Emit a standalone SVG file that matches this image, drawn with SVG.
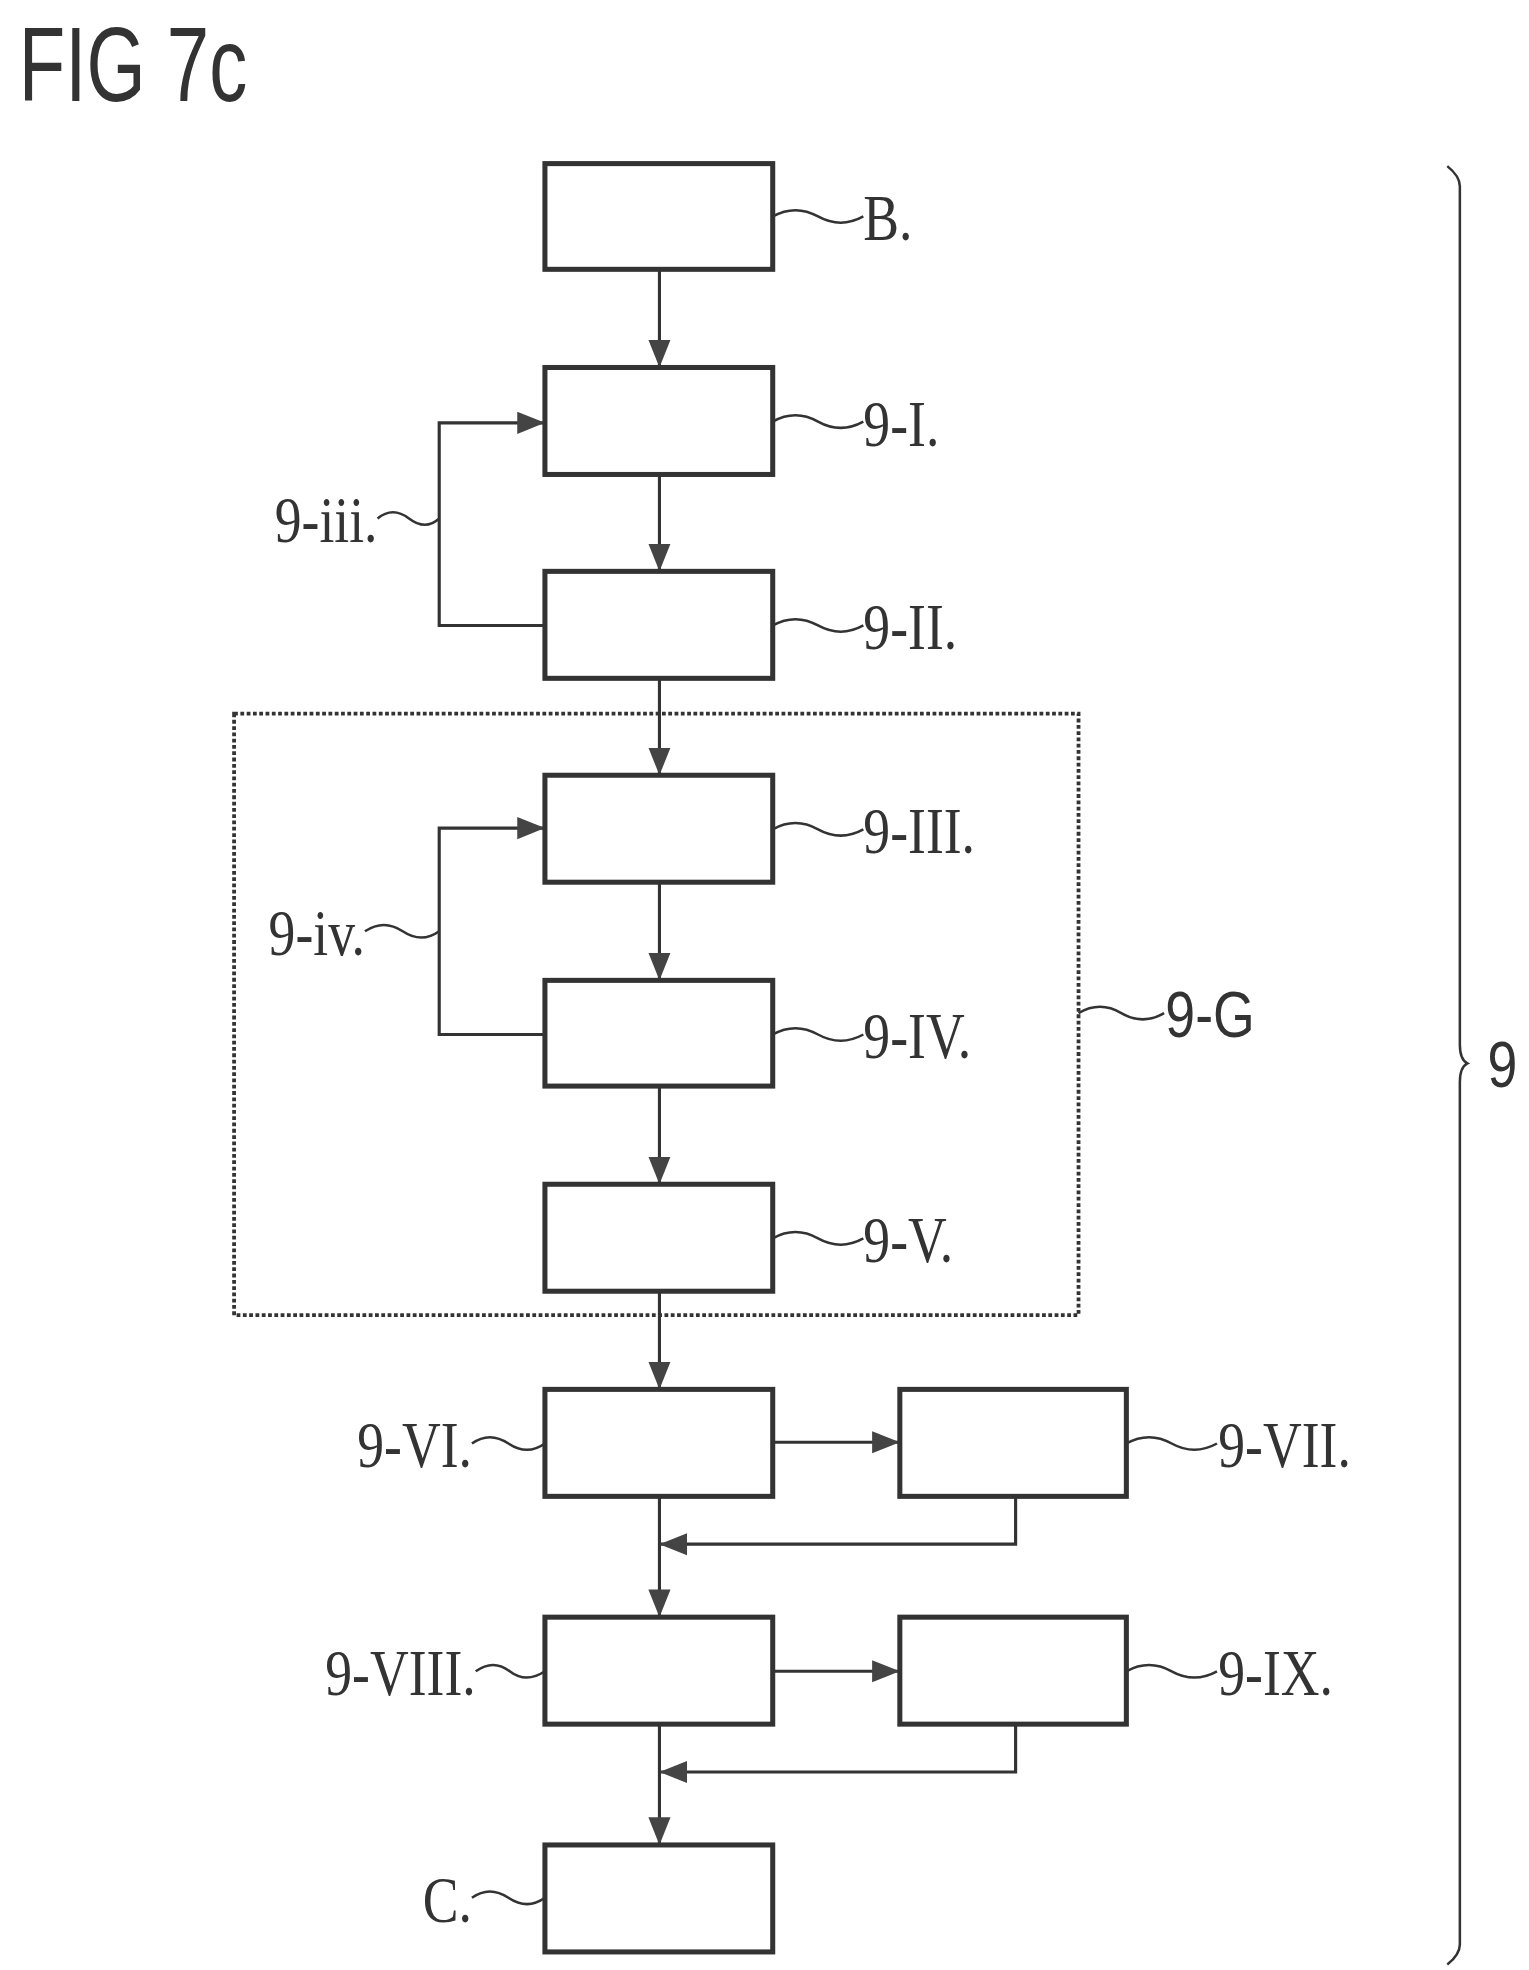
<svg xmlns="http://www.w3.org/2000/svg" width="1529" height="1970" viewBox="0 0 1529 1970">
<style>
.box{fill:#fff;stroke:#333;stroke-width:4}
.ln{fill:none;stroke:#333;stroke-width:2.5}
.td{fill:none;stroke:#333;stroke-width:2}
.lb{font-family:"Liberation Serif",serif;font-size:52px;fill:#333}
</style>
<defs>
<marker id="a" viewBox="0 0 10 10" refX="10" refY="5" markerWidth="22" markerHeight="22" orient="auto" markerUnits="userSpaceOnUse"><path d="M0,1 L10,5 L0,9 Z" fill="#444"/></marker>
</defs>
<rect width="1529" height="1970" fill="#fff"/>
<g transform="scale(1.2585)">
<text x="15" y="80" transform="translate(15 80) scale(0.72 1) translate(-15 -80)" style="font-family:'Liberation Sans',sans-serif;font-size:84px;fill:#333">FIG 7c</text>
<g id="connectors">
<path class="ln" d="M524,214 V292" marker-end="url(#a)"/>
<path class="ln" d="M524,377 V454" marker-end="url(#a)"/>
<path class="ln" d="M524,539 V616" marker-end="url(#a)"/>
<path class="ln" d="M524,701 V779" marker-end="url(#a)"/>
<path class="ln" d="M524,863 V941" marker-end="url(#a)"/>
<path class="ln" d="M524,1026 V1104" marker-end="url(#a)"/>
<path class="ln" d="M524,1189 V1285" marker-end="url(#a)"/>
<path class="ln" d="M524,1370 V1466" marker-end="url(#a)"/>
<path class="ln" d="M433,497 H349 V336 H433" marker-end="url(#a)"/>
<path class="ln" d="M433,822 H349 V658 H433" marker-end="url(#a)"/>
<path class="ln" d="M614,1146 H715" marker-end="url(#a)"/>
<path class="ln" d="M614,1328 H715" marker-end="url(#a)"/>
<path class="ln" d="M807,1189 V1227 H524" marker-end="url(#a)"/>
<path class="ln" d="M807,1370 V1408 H524" marker-end="url(#a)"/>
</g>
<g id="group-9G"><rect x="186" y="567" width="671" height="478" fill="none" stroke="#333" stroke-width="3" stroke-dasharray="3,2"/></g>
<g id="B"><rect class="box" x="433" y="130" width="181" height="84"/><path class="td" d="M614,172 q18,-10 36,0 t36,0"/><text class="lb" x="686" y="191" transform="translate(686 191) scale(0.82 1) translate(-686 -191)">B.</text></g>
<g id="n9-I"><rect class="box" x="433" y="292" width="181" height="85"/><path class="td" d="M614,335 q18,-10 36,0 t36,0"/><text class="lb" x="686" y="354" transform="translate(686 354) scale(0.82 1) translate(-686 -354)">9-I.</text></g>
<g id="n9-II"><rect class="box" x="433" y="454" width="181" height="85"/><path class="td" d="M614,497 q18,-10 36,0 t36,0"/><text class="lb" x="686" y="516" transform="translate(686 516) scale(0.82 1) translate(-686 -516)">9-II.</text></g>
<g id="n9-III"><rect class="box" x="433" y="616" width="181" height="85"/><path class="td" d="M614,659 q18,-10 36,0 t36,0"/><text class="lb" x="686" y="678" transform="translate(686 678) scale(0.82 1) translate(-686 -678)">9-III.</text></g>
<g id="n9-IV"><rect class="box" x="433" y="779" width="181" height="84"/><path class="td" d="M614,822 q18,-10 36,0 t36,0"/><text class="lb" x="686" y="841" transform="translate(686 841) scale(0.82 1) translate(-686 -841)">9-IV.</text></g>
<g id="n9-V"><rect class="box" x="433" y="941" width="181" height="85"/><path class="td" d="M614,984 q18,-10 36,0 t36,0"/><text class="lb" x="686" y="1003" transform="translate(686 1003) scale(0.82 1) translate(-686 -1003)">9-V.</text></g>
<g id="n9-VI"><rect class="box" x="433" y="1104" width="181" height="85"/><path class="td" d="M375,1147 q14,-10 29,0 t29,0"/><text class="lb" x="375" y="1166" text-anchor="end" transform="translate(375 1166) scale(0.82 1) translate(-375 -1166)">9-VI.</text></g>
<g id="n9-VII"><rect class="box" x="715" y="1104" width="180" height="85"/><path class="td" d="M895,1147 q18,-10 36,0 t36,0"/><text class="lb" x="968" y="1166" transform="translate(968 1166) scale(0.82 1) translate(-968 -1166)">9-VII.</text></g>
<g id="n9-VIII"><rect class="box" x="433" y="1285" width="181" height="85"/><path class="td" d="M378,1328 q14,-10 27,0 t28,0"/><text class="lb" x="378" y="1347" text-anchor="end" transform="translate(378 1347) scale(0.82 1) translate(-378 -1347)">9-VIII.</text></g>
<g id="n9-IX"><rect class="box" x="715" y="1285" width="180" height="85"/><path class="td" d="M895,1328 q18,-10 36,0 t36,0"/><text class="lb" x="968" y="1347" transform="translate(968 1347) scale(0.82 1) translate(-968 -1347)">9-IX.</text></g>
<g id="C"><rect class="box" x="433" y="1466" width="181" height="85"/><path class="td" d="M375,1508 q14,-10 29,0 t29,0"/><text class="lb" x="375" y="1527" text-anchor="end" transform="translate(375 1527) scale(0.82 1) translate(-375 -1527)">C.</text></g>
<g id="lbl-9iii"><path class="td" d="M300,412 q12,-10 25,0 t24,0"/><text class="lb" x="300" y="431" text-anchor="end" transform="translate(300 431) scale(0.82 1) translate(-300 -431)">9-iii.</text></g>
<g id="lbl-9iv"><path class="td" d="M290,740 q15,-10 30,0 t29,0"/><text class="lb" x="290" y="759" text-anchor="end" transform="translate(290 759) scale(0.82 1) translate(-290 -759)">9-iv.</text></g>
<g id="lbl-9G"><path class="td" d="M857,805 q17,-10 34,0 t34,0"/><text class="lb" x="926" y="824" transform="translate(926 824) scale(0.82 1) translate(-926 -824)" style="font-family:'Liberation Sans',sans-serif">9-G</text></g>
<g id="brace-9"><path class="td" d="M1150,132 q10,8 10,16 V830 q0,12 6,15 q-6,3 -6,15 V1545 q0,8 -10,16"/><text class="lb" x="1182" y="864" transform="translate(1182 864) scale(0.82 1) translate(-1182 -864)" style="font-family:'Liberation Sans',sans-serif">9</text></g>
</g>
</svg>
